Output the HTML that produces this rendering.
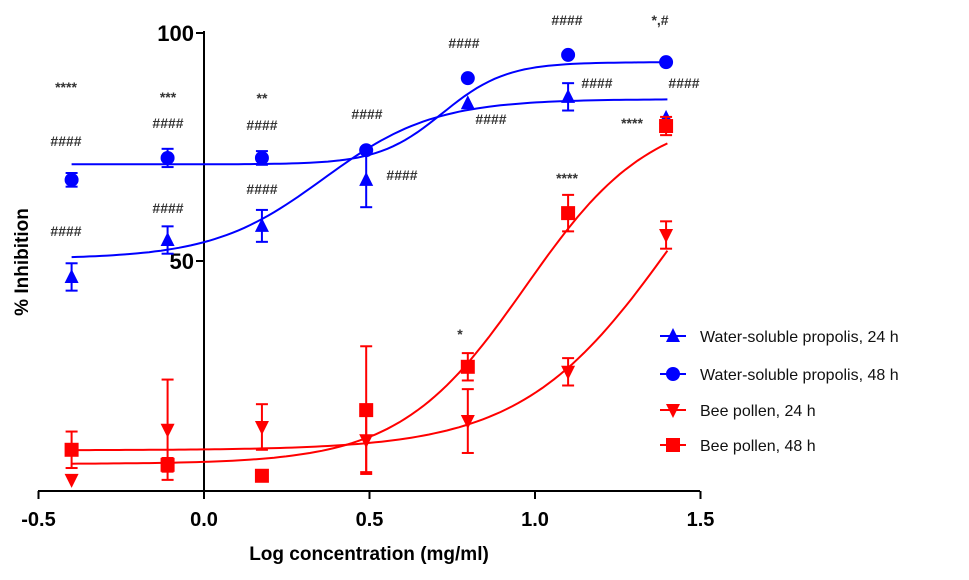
<!DOCTYPE html>
<html><head><meta charset="utf-8"><style>
body{margin:0;background:#fff;}
svg{display:block;font-family:"Liberation Sans",Arial,sans-serif;}
</style></head><body>
<svg id="chart" width="969" height="580" viewBox="0 0 969 580"></svg>
<script>
const xDoses=[-0.4,-0.11,0.175,0.49,0.797,1.1,1.396];
const propolis24=[46.5,54.6,57.7,67.8,84.6,86,81.4];
const propolis24Err=[3,3,3.5,6,0,3,0];
const propolis48=[67.8,72.6,72.6,74.3,90.1,95.2,93.6];
const propolis48Err=[1.5,2,1.5,0,0,0,0];
const pollen24=[2,13,13.6,10.7,14.9,25.7,55.7];
const pollen24Err=[0,11,5,7,7,3,3];
const pollen48=[8.6,5.3,2.9,17.3,26.8,60.5,79.6];
const pollen48Err=[4,1.5,0,14,3,4,2];
const fitP24=[50.5,85.5,0.36,2.6];
const fitP48=[71.2,93.6,0.72,4.5];
const fitB24=[8.5,100,1.42,1.9];
const fitB48=[5.5,83,0.97,2.3];
const xTicks=[-0.5,0.0,0.5,1.0,1.5];
const yTicks=[50,100];
const NS="http://www.w3.org/2000/svg";
const svg=document.getElementById('chart');
const X=v=>204+(v)*331;
const Y=v=>489-v*4.56;
function el(t,a,p){const e=document.createElementNS(NS,t);for(const k in a)e.setAttribute(k,a[k]);(p||svg).appendChild(e);return e;}
let ax=el('line',{x1:38,y1:491,x2:700,y2:491,stroke:'#000','stroke-width':2});

let ay=el('line',{x1:204,y1:31,x2:204,y2:491,stroke:'#000','stroke-width':2});

xTicks.forEach(t=>{el('line',{x1:X(t),y1:491,x2:X(t),y2:499,stroke:'#000','stroke-width':2});
 const tx=el('text',{x:X(t),y:526,'text-anchor':'middle','font-size':20,'font-weight':'bold'});tx.textContent=t.toFixed(1);
 });
yTicks.forEach(t=>{el('line',{x1:196,y1:Y(t),x2:204,y2:Y(t),stroke:'#000','stroke-width':2});
 const tx=el('text',{x:194,y:Y(t)+8,'text-anchor':'end','font-size':22,'font-weight':'bold'});tx.textContent=t;
 });
let xt=el('text',{x:369,y:560,'text-anchor':'middle','font-size':19,'font-weight':'bold'});xt.textContent='Log concentration (mg/ml)';

let yt=el('text',{x:0,y:0,transform:'translate(28,262) rotate(-90)','text-anchor':'middle','font-size':19,'font-weight':'bold'});yt.textContent='% Inhibition';

function curve(p,col,name){let d='';for(let i=0;i<=100;i++){const x=-0.4+i*1.8/100;const y=p[0]+(p[1]-p[0])/(1+Math.pow(10,(p[2]-x)*p[3]));d+=(i?'L':'M')+X(x).toFixed(1)+','+Y(y).toFixed(1);}
 const c=el('path',{d:d,fill:'none',stroke:col,'stroke-width':2});}
function marker(shape,cx,cy,col,g){
 if(shape==='circle')return el('circle',{cx:cx,cy:cy,r:7,fill:col},g);
 if(shape==='square')return el('rect',{x:cx-7,y:cy-7,width:14,height:14,fill:col},g);
 if(shape==='up')return el('polygon',{points:`${cx},${cy-8} ${cx-7},${cy+6} ${cx+7},${cy+6}`,fill:col},g);
 return el('polygon',{points:`${cx},${cy+8} ${cx-7},${cy-6} ${cx+7},${cy-6}`,fill:col},g);}
function series(vals,errs,shape,col,name){const g=el('g',{});
 vals.forEach((v,i)=>{const cx=X(xDoses[i]),cy=Y(v),e=errs[i]*4.56;
  if(e>0){el('line',{x1:cx,y1:cy-e,x2:cx,y2:cy+e,stroke:col,'stroke-width':2},g);
   el('line',{x1:cx-6,y1:cy-e,x2:cx+6,y2:cy-e,stroke:col,'stroke-width':2},g);
   el('line',{x1:cx-6,y1:cy+e,x2:cx+6,y2:cy+e,stroke:col,'stroke-width':2},g);}
  const m=marker(shape,cx,cy,col,g);});}
curve(fitP24,'#0000ff','propolis-24h-fit');curve(fitP48,'#0000ff','propolis-48h-fit');
curve(fitB24,'#ff0000','pollen-24h-fit');curve(fitB48,'#ff0000','pollen-48h-fit');
series(propolis24,propolis24Err,'up','#0000ff','propolis-24h-series');
series(propolis48,propolis48Err,'circle','#0000ff','propolis-48h-series');
series(pollen24,pollen24Err,'down','#ff0000','pollen-24h-series');
series(pollen48,pollen48Err,'square','#ff0000','pollen-48h-series');
const annots=[['****',66,92],['####',66,146],['####',66,236],['***',168,102],['####',168,128],['####',168,213],['**',262,103],['####',262,130],['####',262,194],['####',367,119],['####',402,180],['####',464,48],['####',491,124],['####',567,25],['*,#',660,25],['####',597,88],['####',684,88],['****',632,128],['****',567,183],['*',460,339]];
annots.forEach(a=>{const t=el('text',{x:a[1],y:a[2],'text-anchor':'middle','font-size':14,'font-weight':'bold',fill:'#333'});t.textContent=a[0];});
const leg=[['up','#0000ff','Water-soluble propolis, 24 h',336],['circle','#0000ff','Water-soluble propolis,  48 h',374],['down','#ff0000','Bee pollen, 24 h',410],['square','#ff0000','Bee pollen, 48 h',445]];
leg.forEach(l=>{const g=el('g',{});
 el('line',{x1:660,y1:l[3],x2:686,y2:l[3],stroke:l[1],'stroke-width':2},g);marker(l[0],673,l[3],l[1],g);
 const t=el('text',{x:700,y:l[3]+6,'font-size':16,fill:'#111'},g);t.textContent=l[2];});
</script>
</body></html>
